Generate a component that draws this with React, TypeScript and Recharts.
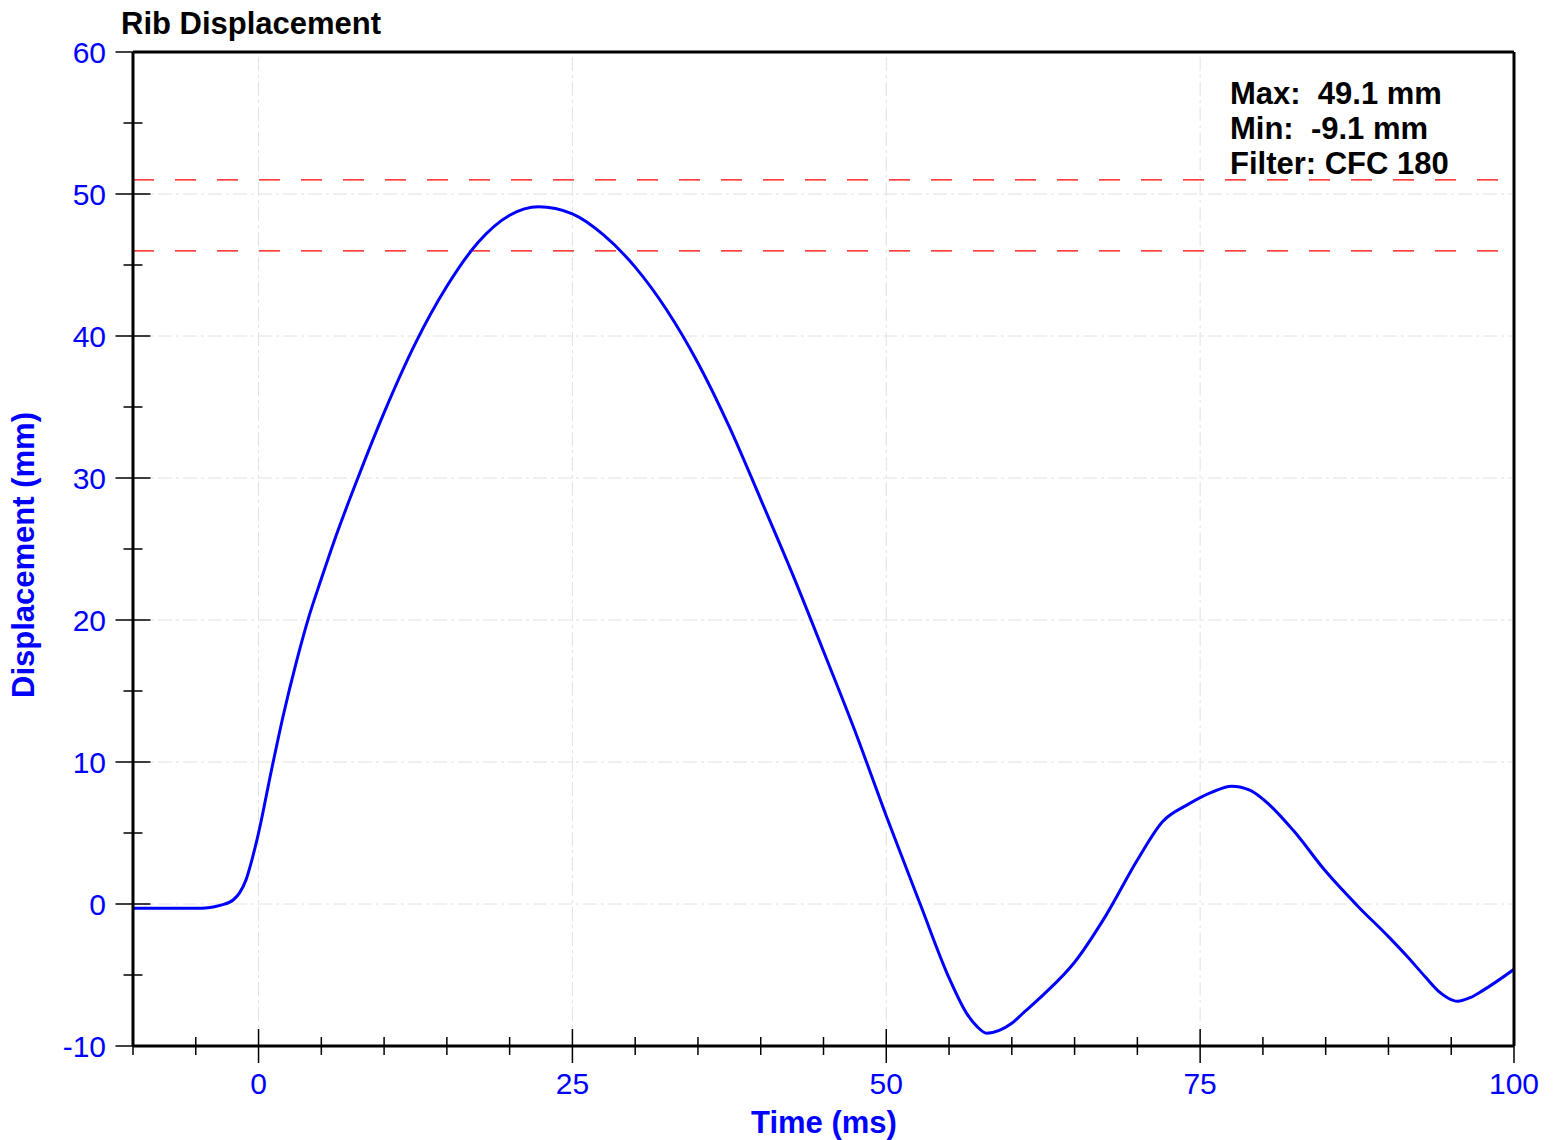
import React from 'react';
import { LineChart, Line, XAxis, YAxis, ReferenceLine } from 'recharts';

const TIME_MS = [
  -10, -7.5, -5, -4, -3, -2, -1.5, -1, -0.5, 0, 1, 2, 3, 4, 5, 6, 8, 10, 12.5, 15, 17.5, 20, 22.3, 25, 27.5,
  30, 32.5, 35, 37.5, 40, 42.5, 45, 47.5, 50, 52.7, 55, 56.4, 57.2, 58, 59, 60, 61, 62.5, 65, 67.5, 70, 72,
  74, 76, 77.5, 79, 80.5, 82.5, 85, 87.5, 90, 91.5, 93, 94, 94.7, 95.5, 96.5, 97.5, 100,
];
const DISPLACEMENT_MM = [
  -0.3, -0.3, -0.3, -0.26, -0.08, 0.3, 0.8, 1.7, 3.2, 5.0, 9.3, 13.4, 17.0, 20.2, 22.9, 25.5, 30.2, 34.6, 39.5, 43.5, 46.6, 48.5, 49.1, 48.6, 47.1,
  44.85, 41.85, 38.1, 33.6, 28.5, 23.3, 17.8, 12.2, 6.2, 0.0, -5.2, -7.7, -8.6, -9.1, -8.9, -8.4, -7.6, -6.4, -4.1, -0.8, 3.1, 5.8,
  7.0, 7.9, 8.3, 8.0, 7.0, 5.1, 2.3, -0.1, -2.3, -3.7, -5.2, -6.15, -6.6, -6.85, -6.6, -6.1, -4.6,
];

const X_TICKS = [-10, -5, 0, 5, 10, 15, 20, 25, 30, 35, 40, 45, 50, 55, 60, 65, 70, 75, 80, 85, 90, 95, 100];
const X_LABELS = [0, 25, 50, 75, 100];
const Y_TICKS = [-10, -5, 0, 5, 10, 15, 20, 25, 30, 35, 40, 45, 50, 55, 60];
const Y_LABELS = [-10, 0, 10, 20, 30, 40, 50, 60];
const GRID_X = [0, 25, 50, 75];
const GRID_Y = [0, 10, 20, 30, 40, 50];
const LIMIT_LINES = [51, 46];

const STATS = ['Max:  49.1 mm', 'Min:  -9.1 mm', 'Filter: CFC 180'];

const data = TIME_MS.map((t, i) => ({ t, d: DISPLACEMENT_MM[i] }));

const FONT = '"Liberation Sans", Arial, Helvetica, sans-serif';
const BLUE = '#0000FF';

const XTick = (props: any) => {
  const { x, y, payload } = props;
  const v = payload.value;
  const major = X_LABELS.includes(v);
  const len = major ? 17 : 9;
  return (
    <g>
      <line x1={x} x2={x} y1={y - len} y2={y + len} stroke="#000" strokeWidth={1.5} />
      {major && (
        <text x={x} y={y + 48} textAnchor="middle" fill={BLUE} fontSize={30} fontFamily={FONT}>
          {v}
        </text>
      )}
    </g>
  );
};

const YTick = (props: any) => {
  const { x, y, payload } = props;
  const v = payload.value;
  const major = Y_LABELS.includes(v);
  const len = major ? 17.5 : 9.5;
  return (
    <g>
      <line x1={x - len} x2={x + len} y1={y} y2={y} stroke="#000" strokeWidth={1.5} />
      {major && (
        <text x={x - 27} y={y + 10.5} textAnchor="end" fill={BLUE} fontSize={30} fontFamily={FONT}>
          {v}
        </text>
      )}
    </g>
  );
};

export default function App() {
  return (
    <div style={{ position: 'absolute', left: 0, top: 0, width: 1559, height: 1140, background: '#fff' }}>
      <LineChart width={1559} height={1140} data={data} margin={{ top: 52, right: 45, bottom: 0, left: 0 }}>
        {GRID_X.map((g) => (
          <ReferenceLine key={'gx' + g} x={g} stroke="#e2e2e2" strokeWidth={1} strokeDasharray="14 4 3 4" />
        ))}
        {GRID_Y.map((g) => (
          <ReferenceLine key={'gy' + g} y={g} stroke="#e2e2e2" strokeWidth={1} strokeDasharray="14 4 3 4" />
        ))}
        {LIMIT_LINES.map((l) => (
          <ReferenceLine key={'l' + l} y={l} stroke="#ff0000" strokeWidth={1.2} strokeDasharray="21 21" />
        ))}
        <XAxis
          dataKey="t"
          type="number"
          domain={[-10, 100]}
          ticks={X_TICKS}
          interval={0}
          height={94}
          tickSize={0}
          tickMargin={0}
          tickLine={false}
          axisLine={{ stroke: '#000', strokeWidth: 3 }}
          tick={<XTick />}
          allowDataOverflow
        />
        <YAxis
          type="number"
          domain={[-10, 60]}
          ticks={Y_TICKS}
          interval={0}
          width={133}
          tickSize={0}
          tickMargin={0}
          tickLine={false}
          axisLine={{ stroke: '#000', strokeWidth: 3 }}
          tick={<YTick />}
          allowDataOverflow
        />
        <Line
          type="monotone"
          dataKey="d"
          stroke={BLUE}
          strokeWidth={3}
          dot={false}
          activeDot={false}
          isAnimationActive={false}
        />
        <ReferenceLine y={60} stroke="#000" strokeWidth={3} />
        <ReferenceLine x={100} stroke="#000" strokeWidth={3} />
      </LineChart>
      <svg
        width={1559}
        height={1140}
        style={{ position: 'absolute', left: 0, top: 0, pointerEvents: 'none' }}
      >
        <text x={121} y={34} fontSize={31} fontWeight="bold" fontFamily={FONT} fill="#000">
          Rib Displacement
        </text>
        {STATS.map((s, i) => (
          <text
            key={s}
            x={1230}
            y={104 + i * 35}
            fontSize={31}
            fontWeight="bold"
            fontFamily={FONT}
            fill="#000"
            style={{ whiteSpace: 'pre' }}
            xmlSpace="preserve"
          >
            {s}
          </text>
        ))}
        <text x={824} y={1133} textAnchor="middle" fontSize={31} fontWeight="bold" fontFamily={FONT} fill={BLUE}>
          Time (ms)
        </text>
        <text
          transform="translate(34,555) rotate(-90)"
          textAnchor="middle"
          fontSize={31}
          fontWeight="bold"
          fontFamily={FONT}
          fill={BLUE}
        >
          Displacement (mm)
        </text>
      </svg>
    </div>
  );
}
